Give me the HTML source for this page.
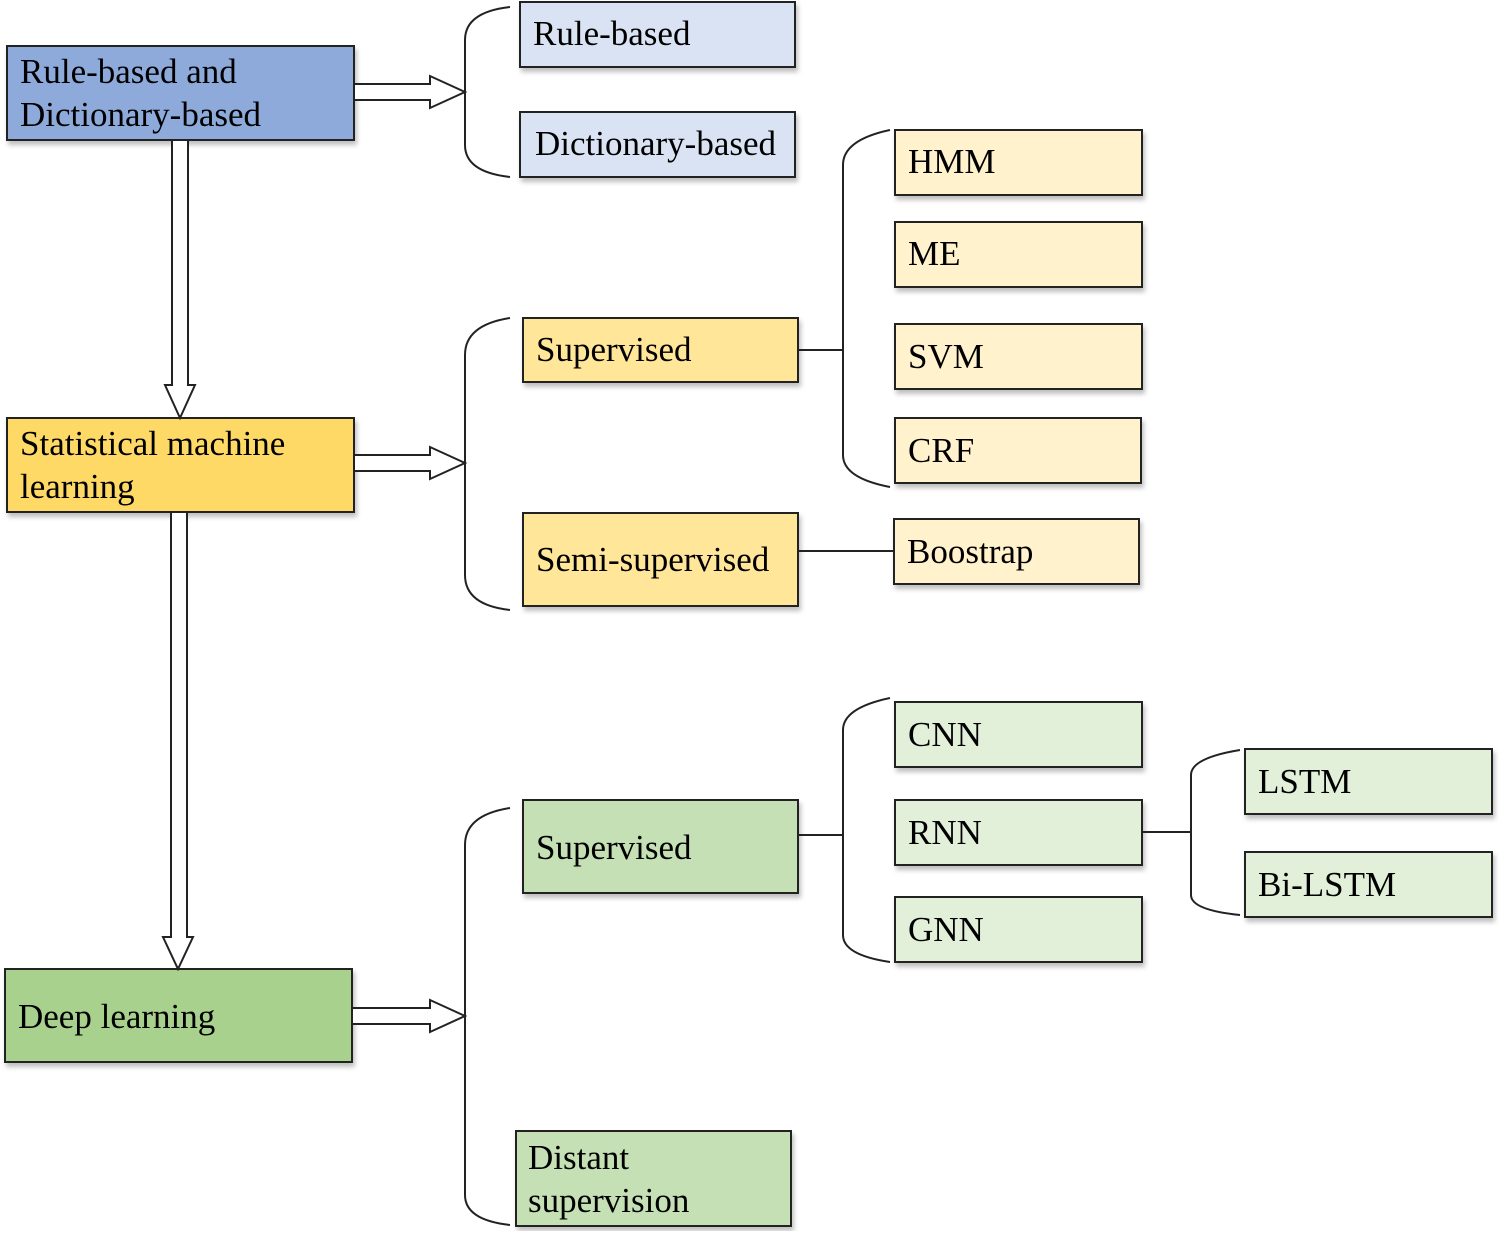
<!DOCTYPE html>
<html><head><meta charset="utf-8"><style>
html,body{margin:0;padding:0;background:#fff;}
svg text{font-family:"Liberation Serif",serif;font-size:35px;fill:#000;}
</style></head><body>
<svg width="1500" height="1231" viewBox="0 0 1500 1231" xmlns="http://www.w3.org/2000/svg">
<defs><filter id="sh" x="-5%" y="-5%" width="115%" height="130%"><feDropShadow dx="2" dy="4" stdDeviation="2.5" flood-color="#000" flood-opacity="0.25"/></filter></defs>
<g stroke="#222" stroke-width="2" filter="url(#sh)">
<rect x="7" y="46" width="347" height="94" fill="#8eaadb"/>
<rect x="7" y="418" width="347" height="94" fill="#ffd966"/>
<rect x="5" y="969" width="347" height="93" fill="#a9d18e"/>
<rect x="520" y="2" width="275" height="65" fill="#dae3f3"/>
<rect x="520" y="112" width="275" height="65" fill="#dae3f3"/>
<rect x="523" y="318" width="275" height="64" fill="#ffe699"/>
<rect x="523" y="513" width="275" height="93" fill="#ffe699"/>
<rect x="895" y="130" width="247" height="65" fill="#fff2cc"/>
<rect x="895" y="222" width="247" height="65" fill="#fff2cc"/>
<rect x="895" y="324" width="247" height="65" fill="#fff2cc"/>
<rect x="895" y="418" width="246" height="65" fill="#fff2cc"/>
<rect x="894" y="519" width="245" height="65" fill="#fff2cc"/>
<rect x="523" y="800" width="275" height="93" fill="#c5e0b4"/>
<rect x="516" y="1131" width="275" height="95" fill="#c5e0b4"/>
<rect x="895" y="702" width="247" height="65" fill="#e2f0d9"/>
<rect x="895" y="800" width="247" height="65" fill="#e2f0d9"/>
<rect x="895" y="897" width="247" height="65" fill="#e2f0d9"/>
<rect x="1245" y="749" width="247" height="65" fill="#e2f0d9"/>
<rect x="1245" y="852" width="247" height="65" fill="#e2f0d9"/>
</g>
<g fill="none" stroke="#222" stroke-width="2">
<path d="M510 7 Q465 12 465 40 L465 145 Q465 172 510 177"/>
<path d="M510 318 Q465 325 465 355 L465 575 Q465 605 510 610"/>
<path d="M890 130 Q843 140 843 165 L843 455 Q843 478 890 487"/>
<path d="M510 808 Q465 815 465 845 L465 1195 Q465 1220 510 1225"/>
<path d="M890 698 Q843 708 843 730 L843 935 Q843 955 890 962"/>
<path d="M1240 750 Q1191 758 1191 775 L1191 895 Q1191 910 1240 915"/>
<line x1="798" y1="350" x2="843" y2="350"/>
<line x1="798" y1="551" x2="894" y2="551"/>
<line x1="798" y1="835" x2="843" y2="835"/>
<line x1="1142" y1="832" x2="1191" y2="832"/>
</g>
<g fill="#fff" stroke="#222" stroke-width="2">
<path d="M354 84 L430 84 L430 76 L465 92 L430 108 L430 100 L354 100 Z"/>
<path d="M354 455 L430 455 L430 447 L465 463 L430 479 L430 471 L354 471 Z"/>
<path d="M352 1008 L430 1008 L430 1000 L465 1016 L430 1032 L430 1024 L352 1024 Z"/>
<path d="M172 140 L172 385 L165 385 L180 418 L195 385 L188 385 L188 140 Z"/>
<path d="M171 512 L171 937 L163 937 L178 969 L193 937 L187 937 L187 512 Z"/>
</g>
<text x="20" y="83">Rule-based and</text>
<text x="20" y="126">Dictionary-based</text>
<text x="20" y="455">Statistical machine</text>
<text x="20" y="498">learning</text>
<text x="18" y="1028">Deep learning</text>
<text x="533" y="45">Rule-based</text>
<text x="535" y="155">Dictionary-based</text>
<text x="536" y="361">Supervised</text>
<text x="536" y="571">Semi-supervised</text>
<text x="908" y="173">HMM</text>
<text x="908" y="265">ME</text>
<text x="908" y="368">SVM</text>
<text x="908" y="462">CRF</text>
<text x="907" y="563">Boostrap</text>
<text x="536" y="859">Supervised</text>
<text x="528" y="1169">Distant</text>
<text x="528" y="1212">supervision</text>
<text x="908" y="746">CNN</text>
<text x="908" y="844">RNN</text>
<text x="908" y="941">GNN</text>
<text x="1258" y="793">LSTM</text>
<text x="1258" y="896">Bi-LSTM</text>
</svg>
</body></html>
